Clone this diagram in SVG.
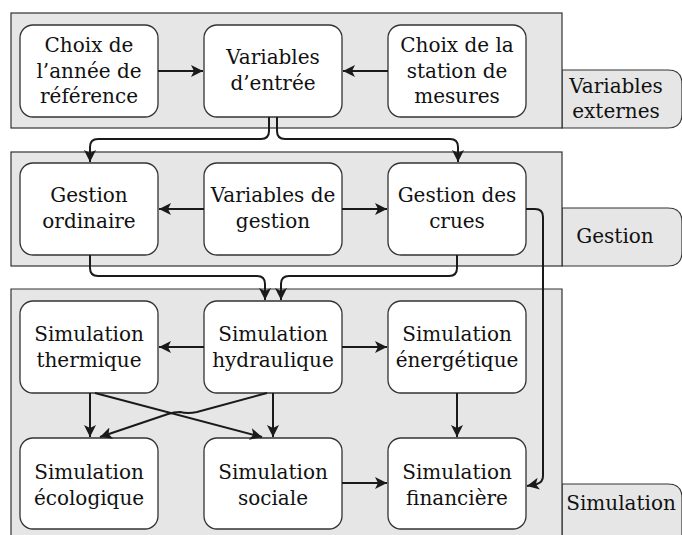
<svg xmlns="http://www.w3.org/2000/svg" width="682" height="535" viewBox="0 0 682 535">
<defs>
<marker id="ah" viewBox="0 0 10 10" refX="10" refY="5" markerWidth="6" markerHeight="6" orient="auto" markerUnits="strokeWidth">
<path d="M0,0 L10,5 L0,10 L2.5,5 Z" fill="#1a1a1a"/>
</marker>
<style>
.panel{fill:#e6e6e6;stroke:#333;stroke-width:1.2}
.box{fill:#fff;stroke:#333;stroke-width:1.3}
.t{font-family:"DejaVu Serif","Liberation Serif",serif;font-size:20px;fill:#111;text-anchor:middle}
.c{fill:none;stroke:#1a1a1a;stroke-width:2;marker-end:url(#ah)}
</style>
</defs>
<g id="panels">
<path class="panel" d="M562,70 H668 Q682,70 682,84 V114 Q682,128 668,128 H562 Z"/>
<rect class="panel" x="11" y="13" width="551" height="115"/>
<path class="panel" d="M562,208 H668 Q682,208 682,222 V252 Q682,266 668,266 H562 Z"/>
<rect class="panel" x="11" y="152" width="551" height="114"/>
<path class="panel" d="M562,484 H668 Q682,484 682,498 V540 H562 Z"/>
<path class="panel" d="M11,540 V289 H562 V540"/>
<text class="t" x="616" y="93">Variables</text>
<text class="t" x="616" y="118">externes</text>
<text class="t" x="615" y="243">Gestion</text>
<text class="t" x="621" y="510">Simulation</text>
</g>
<g id="n_annee"><rect class="box" x="20" y="25" width="138" height="92" rx="13"/>
<text class="t" x="89" y="52">Choix de</text><text class="t" x="89" y="78">l’année de</text><text class="t" x="89" y="103">référence</text></g>
<g id="n_entree"><rect class="box" x="204" y="25" width="138" height="92" rx="13"/>
<text class="t" x="273" y="64">Variables</text><text class="t" x="273" y="90">d’entrée</text></g>
<g id="n_station"><rect class="box" x="388" y="25" width="138" height="92" rx="13"/>
<text class="t" x="457" y="52">Choix de la</text><text class="t" x="457" y="78">station de</text><text class="t" x="457" y="103">mesures</text></g>
<g id="n_ordinaire"><rect class="box" x="20" y="163" width="138" height="92" rx="13"/>
<text class="t" x="89" y="202">Gestion</text><text class="t" x="89" y="228">ordinaire</text></g>
<g id="n_vargestion"><rect class="box" x="204" y="163" width="138" height="92" rx="13"/>
<text class="t" x="273" y="202">Variables de</text><text class="t" x="273" y="228">gestion</text></g>
<g id="n_crues"><rect class="box" x="388" y="163" width="138" height="92" rx="13"/>
<text class="t" x="457" y="202">Gestion des</text><text class="t" x="457" y="228">crues</text></g>
<g id="n_thermique"><rect class="box" x="20" y="301" width="138" height="92" rx="13"/>
<text class="t" x="89" y="341">Simulation</text><text class="t" x="89" y="367">thermique</text></g>
<g id="n_hydraulique"><rect class="box" x="204" y="301" width="138" height="92" rx="13"/>
<text class="t" x="273" y="341">Simulation</text><text class="t" x="273" y="367">hydraulique</text></g>
<g id="n_energetique"><rect class="box" x="388" y="301" width="138" height="92" rx="13"/>
<text class="t" x="457" y="341">Simulation</text><text class="t" x="457" y="367">énergétique</text></g>
<g id="n_ecologique"><rect class="box" x="20" y="438" width="138" height="91" rx="13"/>
<text class="t" x="89" y="479">Simulation</text><text class="t" x="89" y="505">écologique</text></g>
<g id="n_sociale"><rect class="box" x="204" y="438" width="138" height="91" rx="13"/>
<text class="t" x="273" y="479">Simulation</text><text class="t" x="273" y="505">sociale</text></g>
<g id="n_financiere"><rect class="box" x="388" y="438" width="138" height="91" rx="13"/>
<text class="t" x="457" y="479">Simulation</text><text class="t" x="457" y="505">financière</text></g>
<g id="connectors">
<path class="c" d="M158,71 H203"/>
<path class="c" d="M388,71 H343"/>
<path class="c" d="M269,117 V131 Q269,139 261,139 H98 Q90,139 90,147 V162"/>
<path class="c" d="M277,117 V131 Q277,139 285,139 H450 Q458,139 458,147 V162"/>
<path class="c" d="M204,209 H159"/>
<path class="c" d="M342,209 H387"/>
<path class="c" d="M90,255 V268 Q90,276 98,276 H257 Q265,276 265,284 V300"/>
<path class="c" d="M457,255 V268 Q457,276 449,276 H289 Q281,276 281,284 V300"/>
<path class="c" d="M526,209 H535 Q543,209 543,217 V476 Q543,482 537,484 L527,486"/>
<path class="c" d="M204,347 H159"/>
<path class="c" d="M342,347 H387"/>
<path class="c" d="M90,393 V437"/>
<path class="c" d="M273,393 V437"/>
<path class="c" d="M457,393 V437"/>
<path class="c" d="M342,483 H387"/>
<path class="c" d="M95,393 L262,437"/>
<path class="c" d="M267,393 L197,412 Q188,414 180,412 Q174,412 168,414 L100,437"/>
</g>
</svg>
